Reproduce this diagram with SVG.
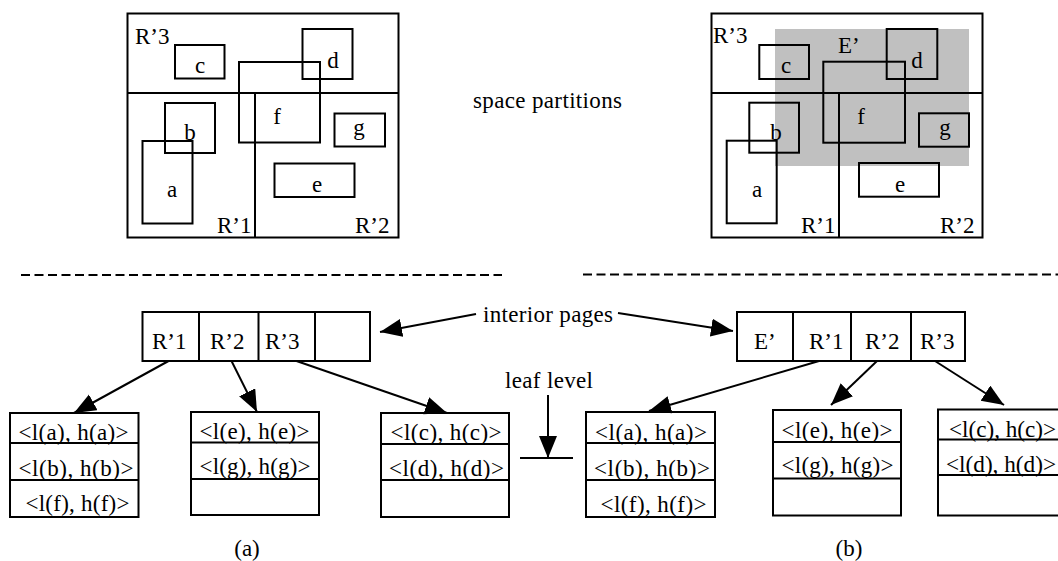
<svg xmlns="http://www.w3.org/2000/svg" width="1058" height="561" viewBox="0 0 1058 561">
<style>
.ln{stroke:#000;stroke-width:2;fill:none}
.bx{stroke:#000;stroke-width:2;fill:#fff}
.t{font-family:"Liberation Serif","Times New Roman",serif;font-size:23px;fill:#000}
.m{text-anchor:middle}
.dash{stroke:#000;stroke-width:2;stroke-dasharray:9 4.5;fill:none}
.cn{stroke:#000;stroke-width:2;fill:none;marker-end:url(#ah)}
</style>
<defs>
<marker id="ah" markerUnits="userSpaceOnUse" markerWidth="24" markerHeight="20" refX="22" refY="9" orient="auto" viewBox="0 0 24 20"><path d="M0,0 L22,9 L0,18 Z" fill="#000"/></marker>
</defs>
<rect width="1058" height="561" fill="#fff"/>

<g id="panel-a">
<rect class="bx" x="127.5" y="13.5" width="271" height="224"/>
<line class="ln" x1="127.5" y1="93" x2="398.5" y2="93"/>
<line class="ln" x1="255" y1="93" x2="255" y2="237.5"/>
<rect class="ln" x="175" y="45" width="49.5" height="33.5"/>
<rect class="ln" x="302.5" y="29" width="50" height="50"/>
<rect class="ln" x="239" y="62" width="81" height="80.5"/>
<rect class="ln" x="165" y="103" width="50" height="50"/>
<rect class="ln" x="142.5" y="141" width="50" height="82.5"/>
<rect class="ln" x="334.5" y="113.5" width="50.5" height="33"/>
<rect class="ln" x="274.5" y="163.5" width="80" height="33.5"/>
<text class="t" x="135" y="44">R’3</text>
<text class="t m" x="200" y="73">c</text>
<text class="t m" x="333" y="68">d</text>
<text class="t m" x="277" y="124">f</text>
<text class="t m" x="190" y="140">b</text>
<text class="t m" x="172" y="197">a</text>
<text class="t m" x="359" y="135">g</text>
<text class="t m" x="317" y="192">e</text>
<text class="t" x="217" y="233">R’1</text>
<text class="t" x="355" y="233">R’2</text>
</g>

<g id="panel-b">
<rect class="bx" x="711.5" y="13.5" width="271" height="224"/>
<rect x="775" y="29" width="194" height="137" fill="#c0c0c0"/>
<line class="ln" x1="711.5" y1="93" x2="982.5" y2="93"/>
<line class="ln" x1="839" y1="93" x2="839" y2="237.5"/>
<rect class="ln" x="759.3" y="45" width="49.7" height="34"/>
<rect class="ln" x="886.7" y="29" width="50.6" height="50"/>
<rect class="ln" x="823.3" y="61.7" width="81.7" height="81"/>
<rect class="ln" x="749.3" y="102.7" width="49.7" height="50"/>
<rect class="ln" x="726.7" y="140.7" width="50" height="82.6"/>
<rect class="ln" x="919" y="113.3" width="50" height="33.4"/>
<rect class="ln" x="859" y="163" width="80" height="33.7"/>
<text class="t" x="713" y="43">R’3</text>
<text class="t" x="838" y="53">E’</text>
<text class="t m" x="786" y="73">c</text>
<text class="t m" x="917" y="68">d</text>
<text class="t m" x="861" y="124">f</text>
<text class="t m" x="776" y="140">b</text>
<text class="t m" x="757" y="197">a</text>
<text class="t m" x="945" y="135">g</text>
<text class="t m" x="900" y="192">e</text>
<text class="t" x="801" y="233">R’1</text>
<text class="t" x="940" y="233">R’2</text>
</g>

<g id="label-space">
<text class="t" x="473" y="108" textLength="149" lengthAdjust="spacing">space partitions</text>
</g>

<g id="separators">
<line class="dash" x1="21" y1="275" x2="502" y2="275"/>
<line class="dash" x1="583" y1="274.5" x2="1058" y2="274.5"/>
</g>

<g id="interior-a">
<rect class="bx" x="142.5" y="312" width="227.5" height="49"/>
<line class="ln" x1="199" y1="312" x2="199" y2="361"/>
<line class="ln" x1="258.5" y1="312" x2="258.5" y2="361"/>
<line class="ln" x1="315" y1="312" x2="315" y2="361"/>
<text class="t" x="152" y="349">R’1</text>
<text class="t" x="210" y="349">R’2</text>
<text class="t" x="265" y="349">R’3</text>
</g>

<g id="interior-b">
<rect class="bx" x="737" y="312" width="228" height="49"/>
<line class="ln" x1="793" y1="312" x2="793" y2="361"/>
<line class="ln" x1="851" y1="312" x2="851" y2="361"/>
<line class="ln" x1="911" y1="312" x2="911" y2="361"/>
<text class="t" x="754" y="349">E’</text>
<text class="t" x="809" y="349">R’1</text>
<text class="t" x="865" y="349">R’2</text>
<text class="t" x="920" y="349">R’3</text>
</g>

<g id="label-interior">
<text class="t" x="483" y="322" textLength="130" lengthAdjust="spacing">interior pages</text>
</g>
<g id="label-leaf">
<text class="t" x="505" y="388" textLength="88" lengthAdjust="spacing">leaf level</text>
<line class="ln" x1="520" y1="458" x2="573" y2="458"/>
</g>

<g id="leaf-a1">
<rect class="bx" x="10" y="413" width="128.5" height="104"/>
<line class="ln" x1="10" y1="443" x2="138.5" y2="443"/>
<line class="ln" x1="10" y1="480" x2="138.5" y2="480"/>
<text class="t" x="18.5" y="440" textLength="110" lengthAdjust="spacing">&lt;l(a), h(a)&gt;</text>
<text class="t" x="18.5" y="476" textLength="115" lengthAdjust="spacing">&lt;l(b), h(b)&gt;</text>
<text class="t" x="25.5" y="511" textLength="104" lengthAdjust="spacing">&lt;l(f), h(f)&gt;</text>
</g>
<g id="leaf-a2">
<rect class="bx" x="191" y="412" width="128" height="103"/>
<line class="ln" x1="191" y1="442.5" x2="319" y2="442.5"/>
<line class="ln" x1="191" y1="479" x2="319" y2="479"/>
<text class="t" x="199.5" y="439" textLength="110" lengthAdjust="spacing">&lt;l(e), h(e)&gt;</text>
<text class="t" x="199.5" y="474" textLength="111" lengthAdjust="spacing">&lt;l(g), h(g)&gt;</text>
</g>
<g id="leaf-a3">
<rect class="bx" x="381" y="413" width="128" height="104"/>
<line class="ln" x1="381" y1="444" x2="509" y2="444"/>
<line class="ln" x1="381" y1="480" x2="509" y2="480"/>
<text class="t" x="390.5" y="440" textLength="111" lengthAdjust="spacing">&lt;l(c), h(c)&gt;</text>
<text class="t" x="389" y="476" textLength="115" lengthAdjust="spacing">&lt;l(d), h(d)&gt;</text>
</g>

<g id="leaf-b1">
<rect class="bx" x="586" y="412" width="129" height="105"/>
<line class="ln" x1="586" y1="443" x2="715" y2="443"/>
<line class="ln" x1="586" y1="480" x2="715" y2="480"/>
<text class="t" x="595" y="440" textLength="112" lengthAdjust="spacing">&lt;l(a), h(a)&gt;</text>
<text class="t" x="594" y="476" textLength="116" lengthAdjust="spacing">&lt;l(b), h(b)&gt;</text>
<text class="t" x="600.5" y="512" textLength="106" lengthAdjust="spacing">&lt;l(f), h(f)&gt;</text>
</g>
<g id="leaf-b2">
<rect class="bx" x="773" y="410" width="128" height="105.5"/>
<line class="ln" x1="773" y1="442" x2="901" y2="442"/>
<line class="ln" x1="773" y1="478.5" x2="901" y2="478.5"/>
<text class="t" x="781.5" y="438" textLength="111" lengthAdjust="spacing">&lt;l(e), h(e)&gt;</text>
<text class="t" x="781.5" y="473" textLength="112" lengthAdjust="spacing">&lt;l(g), h(g)&gt;</text>
</g>
<g id="leaf-b3">
<rect class="bx" x="938" y="409.5" width="128" height="106"/>
<line class="ln" x1="938" y1="439.5" x2="1066" y2="439.5"/>
<line class="ln" x1="938" y1="475" x2="1066" y2="475"/>
<text class="t" x="949" y="437" textLength="107" lengthAdjust="spacingAndGlyphs">&lt;l(c), h(c)&gt;</text>
<text class="t" x="946" y="472" textLength="110" lengthAdjust="spacingAndGlyphs">&lt;l(d), h(d)&gt;</text>
</g>

<g id="captions">
<text class="t m" x="247" y="556">(a)</text>
<text class="t m" x="849" y="556">(b)</text>
</g>

<g id="connectors">
<line class="cn" x1="168.5" y1="361" x2="74" y2="413"/>
<line class="cn" x1="231.5" y1="361" x2="257" y2="412"/>
<line class="cn" x1="296.5" y1="361" x2="447" y2="413"/>
<line class="cn" x1="819" y1="361" x2="649" y2="411"/>
<line class="cn" x1="877" y1="361" x2="831" y2="405"/>
<line class="cn" x1="935" y1="361" x2="1004" y2="405"/>
<line class="cn" x1="476" y1="314" x2="380" y2="332"/>
<line class="cn" x1="618" y1="313" x2="733" y2="331"/>
<line class="cn" x1="548" y1="395" x2="548" y2="458"/>
</g>
</svg>
